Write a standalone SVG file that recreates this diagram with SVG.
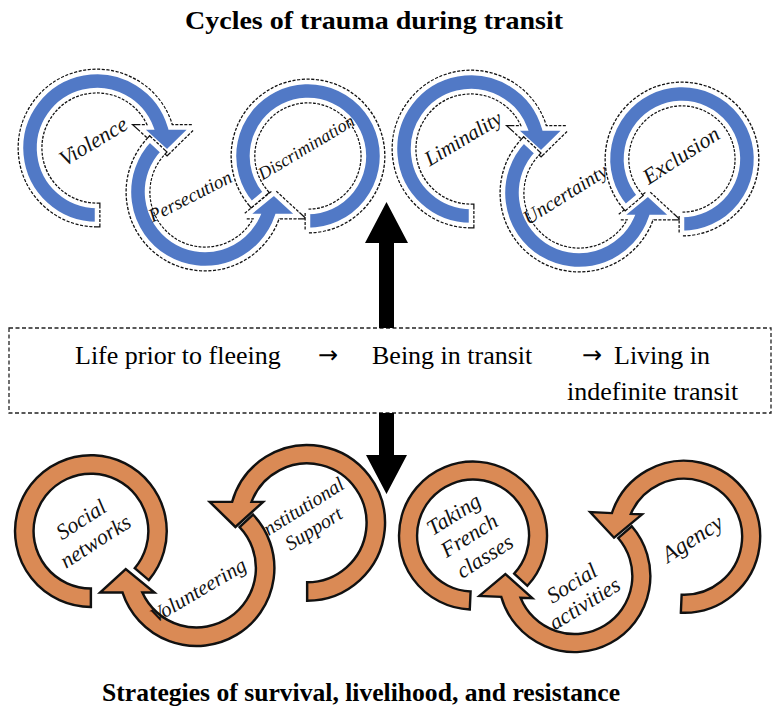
<svg xmlns="http://www.w3.org/2000/svg" xmlns:xlink="http://www.w3.org/1999/xlink" width="780" height="719" viewBox="0 0 780 719">
<style>
.bo{fill:none;stroke:#111;stroke-width:7;stroke-dasharray:3 1.5;stroke-linejoin:miter;stroke-miterlimit:3}
.bi{fill:#5179c6;stroke:#fff;stroke-width:4.5;stroke-linejoin:miter;stroke-miterlimit:3}
.or{fill:#da8a55;stroke:#111;stroke-width:2.4;stroke-linejoin:miter;stroke-miterlimit:4}
.lbl{font-family:"Liberation Serif","Times New Roman",serif;font-style:italic;text-anchor:middle;fill:#111}
.title{font-family:"Liberation Serif","Times New Roman",serif;font-weight:bold;text-anchor:middle;fill:#000}
.bx{font-family:"Liberation Serif","Times New Roman",serif;font-size:26px;fill:#000}
.arr{font-family:"DejaVu Sans","Liberation Serif",sans-serif;font-size:24px;fill:#000}
.conn{fill:#000;stroke:none}
</style>
<defs>
<path id="pA" d="M97,224 A76,76 0 1 1 170.2,127.5 L192,127.5 L167,152 L140,127.5 L151.3,127.5 A58,58 0 1 0 97,206 Z"/>
<path id="pB" d="M149.8,139.8 A76,76 0 1 0 277.1,216 L299,216 L274,193 L246,216 L257.8,216 A58,58 0 1 1 162.9,152.1 Z"/>
<path id="pC" d="M251.5,203.8 A74,74 0 1 1 308,230 L308,212 A56,56 0 1 0 265.2,192.2 Z"/>
</defs>
<rect width="780" height="719" fill="#fff"/>

<text class="title" x="374" y="29" font-size="26" textLength="378" lengthAdjust="spacingAndGlyphs">Cycles of trauma during transit</text>

<!-- top-left cycle -->
<g id="violence">
<use href="#pA" class="bo"/><use href="#pA" class="bi"/>
<text class="lbl" font-size="22" transform="translate(93,141) rotate(-31)" dy=".35em">Violence</text>
</g>
<g id="persecution">
<use href="#pB" class="bo"/><use href="#pB" class="bi"/>
<text class="lbl" font-size="19" transform="translate(190,196) rotate(-27)" dy=".35em">Persecution</text>
</g>
<g id="discrimination">
<use href="#pC" class="bo"/><use href="#pC" class="bi"/>
<text class="lbl" font-size="18" transform="translate(306,147) rotate(-31)" dy=".35em">Discrimination</text>
</g>

<!-- top-right cycle -->
<g id="liminality">
<use href="#pA" class="bo" transform="translate(374,1)"/><use href="#pA" class="bi" transform="translate(374,1)"/>
<text class="lbl" font-size="21" transform="translate(463,138) rotate(-31)" dy=".35em">Liminality</text>
</g>
<g id="uncertainty">
<use href="#pB" class="bo" transform="translate(374,1)"/><use href="#pB" class="bi" transform="translate(374,1)"/>
<text class="lbl" font-size="20" transform="translate(565,194) rotate(-32)" dy=".35em">Uncertainty</text>
</g>
<g id="exclusion">
<use href="#pC" class="bo" transform="translate(374,3)"/><use href="#pC" class="bi" transform="translate(374,3)"/>
<text class="lbl" font-size="22" transform="translate(681,155) rotate(-33)" dy=".35em">Exclusion</text>
</g>

<!-- middle box -->
<g id="timeline">
<rect x="9" y="328" width="762" height="85" fill="none" stroke="#222" stroke-width="1.3" stroke-dasharray="4 2.5"/>
<text class="bx" x="75" y="364">Life prior to fleeing</text>
<text class="arr" x="318" y="363">→</text>
<text class="bx" x="372" y="364">Being in transit</text>
<text class="arr" x="582" y="363">→</text>
<text class="bx" x="614" y="364">Living in</text>
<text class="bx" x="567" y="400">indefinite transit</text>
</g>

<!-- bottom-left cycle -->
<g id="institutional-support">
<use href="#pA" class="or" transform="translate(383,445) scale(1.025) translate(-383,-445) translate(406,373) scale(-1,1)"/>
<text class="lbl" font-size="20" transform="translate(307,518) rotate(-32)"><tspan x="0" y="-12" dy=".35em">Institutional</tspan><tspan x="0" y="12" dy=".35em">Support</tspan></text>
</g>
<g id="volunteering">
<use href="#pB" class="or" transform="translate(383,445) scale(1.025) translate(-383,-445) translate(406,373) scale(-1,1)"/>
<text class="lbl" font-size="21" transform="translate(198,590) rotate(-30.5)" dy=".35em">Volunteering</text>
</g>
<g id="social-networks">
<use href="#pC" class="or" transform="translate(383,445) scale(1.025) translate(-383,-445) translate(406,373) scale(-1,1)"/>
<text class="lbl" font-size="22" transform="translate(88,530) rotate(-33)"><tspan x="0" y="-13" dy=".35em">Social</tspan><tspan x="0" y="13" dy=".35em">networks</tspan></text>
</g>

<!-- bottom-right cycle -->
<g id="agency">
<use href="#pA" class="or" transform="translate(374,11) rotate(2.5,200,550) translate(406,373) scale(-1,1)"/>
<text class="lbl" font-size="23" transform="translate(692,538) rotate(-33)" dy=".35em">Agency</text>
</g>
<g id="social-activities">
<use href="#pB" class="or" transform="translate(374,11) rotate(2.5,200,550) translate(406,373) scale(-1,1)"/>
<text class="lbl" font-size="22" transform="translate(578,593) rotate(-32)"><tspan x="0" y="-12" dy=".35em">Social</tspan><tspan x="0" y="12" dy=".35em">activities</tspan></text>
</g>
<g id="taking-french-classes">
<use href="#pC" class="or" transform="translate(374,11) rotate(2.5,200,550) translate(406,373) scale(-1,1)"/>
<text class="lbl" font-size="22" transform="translate(469,535) rotate(-32)"><tspan x="-2" y="-26" dy=".35em">Taking</tspan><tspan x="0" y="0" dy=".35em">French</tspan><tspan x="2" y="26" dy=".35em">classes</tspan></text>
</g>

<!-- connectors -->
<g id="connectors">
<path class="conn" d="M379,328 L379,243 L365,243 L386.5,202 L408,243 L394,243 L394,328 Z"/>
<path class="conn" d="M379,413 L379,455 L366,455 L386.5,494 L407,455 L394,455 L394,413 Z"/>
</g>

<text class="title" x="361" y="701" font-size="25" textLength="518" lengthAdjust="spacingAndGlyphs">Strategies of survival, livelihood, and resistance</text>
</svg>
